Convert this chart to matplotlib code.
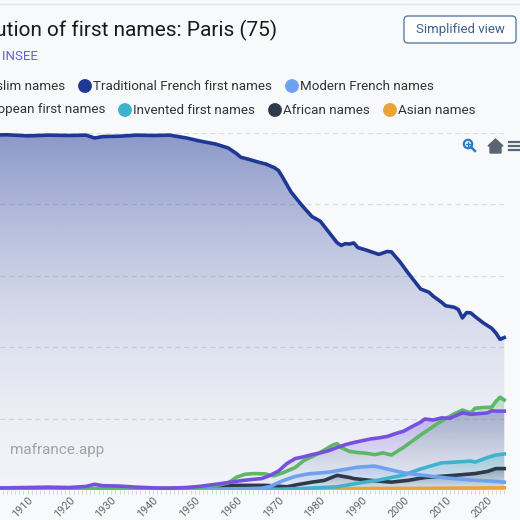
import numpy as np
import matplotlib
matplotlib.use("Agg")
import matplotlib.pyplot as plt
import matplotlib.colors as mcolors
from matplotlib.patches import Polygon, FancyBboxPatch, Circle

plt.rcParams['font.family'] = ['Roboto', 'DejaVu Sans']

# --- data (share of births, %) ---
years_trad = [1900, 1905, 1910, 1915, 1920, 1924, 1926, 1928, 1932, 1936, 1940, 1944, 1948,
              1951, 1955, 1958, 1960, 1961, 1963, 1965, 1967, 1969, 1970, 1971, 1973, 1975,
              1976, 1978, 1980, 1982, 1984, 1985, 1986, 1987, 1988, 1989, 1991, 1993, 1994,
              1996, 1997, 1999, 2001, 2003, 2004, 2006, 2007, 2009, 2010, 2012, 2013, 2014,
              2015, 2016, 2017, 2019, 2021, 2022, 2023, 2024]
trad = [99.4, 99.5, 99.2, 99.4, 99.3, 99.4, 98.6, 99.0, 99.1, 99.4, 99.3, 99.4, 98.6,
        97.8, 96.9, 95.8, 94.2, 93.2, 92.6, 91.9, 91.3, 90.3, 89.5, 87.6, 83.5, 80.6,
        79.2, 76.6, 75.3, 72.3, 69.3, 68.5, 69.0, 68.9, 69.2, 67.9, 67.2, 66.4, 66.0,
        66.8, 66.7, 64.0, 60.8, 57.8, 56.3, 55.4, 54.3, 52.6, 51.6, 51.2, 50.6, 48.2,
        49.7, 49.6, 48.6, 46.8, 45.3, 44.0, 42.2, 42.7]

years_muslim = [1900, 1905, 1910, 1915, 1920, 1924, 1926, 1928, 1932, 1936, 1940, 1944, 1948,
                1951, 1955, 1958, 1961, 1964, 1966, 1968, 1970, 1972, 1974, 1976, 1978, 1980,
                1982, 1984, 1986, 1988, 1990, 1992, 1994, 1996, 1998, 2000, 2002, 2004, 2005,
                2007, 2009, 2011, 2013, 2014, 2016, 2018, 2020, 2021, 2022, 2024]
muslim = [0.6, 0.6, 0.7, 0.8, 0.7, 1.0, 1.6, 1.2, 1.1, 0.8, 0.6, 0.5, 0.7,
          1.0, 1.6, 2.1, 2.6, 3.0, 3.2, 4.1, 5.3, 7.4, 8.8, 9.3, 9.9, 10.4,
          11.0, 11.9, 12.7, 13.3, 13.8, 14.3, 14.6, 15.0, 15.8, 16.5, 17.8, 19.0, 19.9,
          19.6, 20.2, 20.1, 21.1, 21.6, 21.2, 21.4, 21.6, 22.2, 22.1, 22.1]

years_euro = [1900, 1920, 1940, 1950, 1955, 1958, 1960, 1962, 1964, 1967, 1968, 1969, 1971,
              1974, 1976, 1979, 1981, 1983, 1984, 1985, 1987, 1989, 1991, 1993, 1995, 1997,
              2000, 2004, 2008, 2012, 2014, 2016, 2017, 2019, 2021, 2022, 2023, 2024]
euro = [0.4, 0.5, 0.4, 0.6, 1.2, 2.0, 3.6, 4.4, 4.6, 4.5, 4.1, 4.0, 4.8,
        6.3, 8.2, 9.9, 11.2, 12.6, 13.0, 11.9, 10.8, 10.5, 10.3, 9.9, 10.4, 9.8,
        12.0, 15.4, 18.6, 21.3, 22.4, 21.6, 22.9, 23.1, 23.2, 24.8, 26.0, 25.2]

years_modern = [1900, 1950, 1960, 1966, 1968, 1971, 1974, 1977, 1982, 1986, 1989, 1993,
                1996, 2000, 2004, 2010, 2016, 2021, 2024]
modern = [0.1, 0.2, 0.3, 0.5, 1.0, 2.6, 3.8, 4.5, 5.0, 5.8, 6.4, 6.7,
          5.9, 4.8, 4.2, 3.4, 2.8, 2.5, 2.2]

years_invented = [1900, 1960, 1970, 1975, 1984, 1988, 1994, 2000, 2004, 2009, 2012, 2016,
                  2017, 2020, 2022, 2024]
invented = [0.05, 0.1, 0.2, 0.4, 0.9, 1.7, 2.8, 4.2, 5.9, 7.6, 7.8, 8.1,
            7.8, 9.1, 9.8, 10.1]

years_african = [1900, 1940, 1951, 1959, 1967, 1972, 1975, 1978, 1981, 1984, 1987, 1988,
                 1992, 1997, 2001, 2005, 2012, 2017, 2020, 2022, 2024]
african = [0.2, 0.3, 0.7, 1.3, 1.3, 0.9, 1.6, 2.2, 2.7, 4.1, 3.5, 3.2,
           2.7, 2.2, 2.7, 3.5, 4.1, 4.6, 5.2, 6.0, 6.0]

years_asian = [1900, 1950, 1970, 1990, 2010, 2024]
asian = [0.3, 0.3, 0.3, 0.4, 0.5, 0.6]

legend_row1 = ["Muslim names", "Traditional French first names", "Modern French names"]
legend_row2 = ["European first names", "Invented first names", "African names", "Asian names"]

C_MUSLIM = "#7651e0"
C_TRAD = "#1f3795"
C_MODERN = "#6fa2ee"
C_EURO = "#5cb866"
C_INV = "#3fb3cd"
C_AFR = "#2e3a4b"
C_ASIAN = "#eba236"
BG = "#f8f9fb"

W, H = 520, 520


def gradient_fill(ax, x, y, color, a_top, a_bot, z, power=1.0):
    x = np.asarray(x, float)
    y = np.asarray(y, float)
    grad = np.zeros((200, 1, 4))
    grad[:, :, :3] = mcolors.to_rgb(color)
    t = np.linspace(1, 0, 200) ** power
    grad[:, 0, 3] = a_bot + (a_top - a_bot) * t
    im = ax.imshow(grad, aspect='auto', origin='upper', zorder=z,
                   extent=[x.min(), x.max(), 0, y.max()])
    verts = [(x[0], 0)] + list(zip(x, y)) + [(x[-1], 0)]
    poly = Polygon(verts, closed=True, facecolor='none', edgecolor='none')
    ax.add_patch(poly)
    im.set_clip_path(poly)


fig = plt.figure(figsize=(W / 100, H / 100), dpi=100)
fig.patch.set_facecolor(BG)

# plot area: x 0..508 px, y 133..490 px
ax = fig.add_axes([0, 30 / H, 508 / W, 357 / H])
ax.set_facecolor(BG)

series = [
    (years_trad, trad, C_TRAD, 0.50, 0.03, 1.8),
    (years_muslim, muslim, C_MUSLIM, 0.42, 0.02, 1.3),
    (years_euro, euro, C_EURO, 0.30, 0.02, 1.3),
    (years_modern, modern, C_MODERN, 0.30, 0.03, 1.0),
    (years_invented, invented, C_INV, 0.35, 0.03, 1.0),
    (years_african, african, C_AFR, 0.30, 0.02, 1.0),
]
for i, (xs, ys, c, a0, a1, pw) in enumerate(series):
    gradient_fill(ax, xs, ys, c, a0, a1, 1 + i * 0.1, pw)

ax.plot(years_asian, asian, color=C_ASIAN, lw=2.6, zorder=3)
ax.plot(years_african, african, color=C_AFR, lw=2.6, zorder=3.1)
ax.plot(years_invented, invented, color=C_INV, lw=2.6, zorder=3.2)
ax.plot(years_modern, modern, color=C_MODERN, lw=2.6, zorder=3.3)
ax.plot(years_euro, euro, color=C_EURO, lw=2.6, zorder=3.4)
ax.plot(years_muslim, muslim, color=C_MUSLIM, lw=2.6, zorder=3.5)
ax.plot(years_trad, trad, color=C_TRAD, lw=2.6, zorder=3.6)

ax.set_xlim(1903.4, 2024.9)
ax.set_ylim(0, 100)
ax.set_yticks([20, 40, 60, 80, 100])
ax.yaxis.grid(True, color="#dcdde0", linestyle=(0, (4, 3)), lw=0.9)
ax.set_axisbelow(True)
ax.tick_params(axis='y', left=False, labelleft=False)
for s in ax.spines.values():
    s.set_visible(False)

ax.set_xticks(range(1910, 2021, 10))
ax.set_xticks(range(1904, 2025), minor=True)
ax.tick_params(axis='x', which='both', color="#d8d8d8", length=3, width=0.8, pad=0.5)
ax.tick_params(axis='x', which='major', labelsize=7.8, labelcolor="#666666")
for lab in ax.get_xticklabels():
    lab.set_rotation(45)
    lab.set_ha('right')
    lab.set_va('top')
    lab.set_rotation_mode('anchor')

# overlay in pixel coordinates for header, legend, icons
ov = fig.add_axes([0, 0, 1, 1], facecolor='none')
ov.set_xlim(0, W)
ov.set_ylim(H, 0)
ov.axis('off')

ov.plot([0, W], [4, 4], color="#e4e4e8", lw=1)
ov.text(277, 30, "Evolution of first names: Paris (75)", fontsize=15, color="#1a1a1a",
        ha='right', va='center')
ov.text(38, 57, "Source : INSEE", fontsize=9.5, color="#6065c8", ha='right', va='center')

btn = FancyBboxPatch((404, 16), 112, 27, boxstyle="round,pad=0,rounding_size=4",
                     facecolor="white", edgecolor="#5b7ca8", lw=1)
ov.add_patch(btn)
ov.text(460, 29.5, "Simplified view", fontsize=9.5, color="#3d5f8f", ha='center', va='center')

# legend rows
row1 = [(65, None, legend_row1[0]), (93, C_TRAD, legend_row1[1]), (300, C_MODERN, legend_row1[2])]
row2 = [(105, None, legend_row2[0]), (133, C_INV, legend_row2[1]), (283, C_AFR, legend_row2[2]),
        (398, C_ASIAN, legend_row2[3])]
for y, row in [(86, row1), (110, row2)]:
    for x, c, label in row:
        if c is None:
            ov.text(x, y, label, fontsize=9.6, color="#333333", ha='right', va='center')
        else:
            ov.add_patch(Circle((x - 8, y), 6.2, color=c))
            ov.text(x, y, label, fontsize=9.6, color="#333333", ha='left', va='center')

ov.text(10, 450, "mafrance.app", fontsize=11, color="#a3a3a3", ha='left', va='center')

# toolbar icons
ov.add_patch(Circle((468, 144), 4.2, facecolor='none', edgecolor="#2a7dc9", lw=1.6))
ov.plot([471, 475], [147, 151], color="#2a7dc9", lw=1.8)
ov.plot([466, 470], [144, 144], color="#2a7dc9", lw=1)
ov.plot([468, 468], [142, 146], color="#2a7dc9", lw=1)
ov.add_patch(Polygon([(488, 146), (495.5, 139), (503, 146), (501, 146), (501, 153),
                      (490, 153), (490, 146)], closed=True, color="#5a6472"))
for yy in [142, 146, 150]:
    ov.plot([509, 520], [yy, yy], color="#5a6472", lw=1.6)

fig.savefig("out.png", dpi=100, facecolor=BG)
